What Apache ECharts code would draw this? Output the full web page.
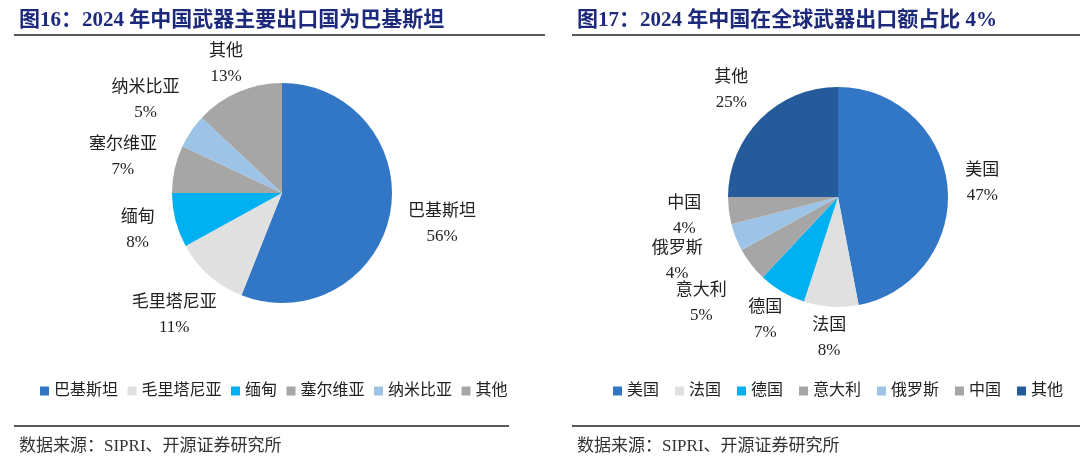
<!DOCTYPE html>
<html><head><meta charset="utf-8">
<script src="https://cdn.jsdelivr.net/npm/echarts@6/dist/echarts.min.js"></script>
<style>html,body{margin:0;padding:0;background:#fff}#c{width:1080px;height:464px}</style>
</head><body><div id="c"></div>
<script>
// ---- data ----
const title1 = '图16：2024 年中国武器主要出口国为巴基斯坦';
const title2 = '图17：2024 年中国在全球武器出口额占比 4%';
const source = '数据来源：SIPRI、开源证券研究所';
const names1 = ['巴基斯坦','毛里塔尼亚','缅甸','塞尔维亚','纳米比亚','其他'];
const values1 = [56, 11, 8, 7, 5, 13];
const names2 = ['美国','法国','德国','意大利','俄罗斯','中国','其他'];
const values2 = [47, 8, 7, 5, 4, 4, 25];

// ---- styles / layout ----
const colors1 = ['#3276C6','#E0E0E0','#00B0F0','#A6A6A6','#9DC3E6','#A6A6A6'];
const colors2 = ['#3276C6','#E0E0E0','#00B0F0','#A6A6A6','#9DC3E6','#A6A6A6','#255A9B'];
// label ring radius per slice (layout only)
const rings1 = [160, 160, 146, 160, 162, 138];
const rings2 = [142, 138, 140, 170, 170, 152, 148];

const FONT = "'Liberation Serif','Noto Sans CJK SC',serif";
const TXT = '#222';

function pieSeries(names, values, colors, center, rings) {
  const out = [{
    type: 'pie', center: center, radius: [0, 110], startAngle: 90, clockwise: true,
    label: { show: false }, labelLine: { show: false }, silent: true,
    itemStyle: { borderWidth: 0 },
    data: names.map((n, i) => ({ name: n, value: values[i], itemStyle: { color: colors[i] } }))
  }];
  const uniq = [...new Set(rings)];
  uniq.forEach(r => {
    out.push({
      type: 'pie', center: center, radius: [0, r * 2], startAngle: 90, clockwise: true,
      silent: true, avoidLabelOverlap: false, z: 1,
      labelLayout: { hideOverlap: false },
      itemStyle: { color: 'rgba(0,0,0,0)', borderWidth: 0 },
      label: { position: 'inside', formatter: '{b}\n{c}%', color: TXT,
               fontFamily: FONT, fontSize: 17, lineHeight: 25, align: 'center' },
      labelLine: { show: false },
      data: names.map((n, i) => ({ name: n, value: values[i], label: { show: rings[i] === r } }))
    });
  });
  return out;
}
function legend(names, colors, left, gap) {
  return {
    left: left, top: 378, icon: 'rect', itemWidth: 9, itemHeight: 9, itemGap: gap,
    selectedMode: false,
    textStyle: { fontFamily: FONT, fontSize: 16, color: TXT },
    data: names.map((n, i) => ({ name: n, itemStyle: { color: colors[i] } }))
  };
}
const titleStyle = { fontFamily: FONT, fontWeight: 'bold', fontSize: 21, color: '#1d2a7c' };
const srcStyle = { fontFamily: FONT, fontWeight: 'normal', fontSize: 17, color: '#333' };
const chart = echarts.init(document.getElementById('c'));
chart.setOption({
  animation: false,
  title: [
    { text: title1, left: 14, top: 5, textStyle: titleStyle },
    { text: title2, left: 572, top: 5, textStyle: titleStyle },
    { text: source, left: 14, top: 433, textStyle: srcStyle },
    { text: source, left: 572, top: 433, textStyle: srcStyle }
  ],
  graphic: [
    { type: 'line', shape: { x1: 14, y1: 35, x2: 545, y2: 35 }, style: { stroke: '#222', lineWidth: 1.5 } },
    { type: 'line', shape: { x1: 572, y1: 35, x2: 1080, y2: 35 }, style: { stroke: '#222', lineWidth: 1.5 } },
    { type: 'line', shape: { x1: 14, y1: 426, x2: 509, y2: 426 }, style: { stroke: '#222', lineWidth: 1.5 } },
    { type: 'line', shape: { x1: 572, y1: 426, x2: 1080, y2: 426 }, style: { stroke: '#222', lineWidth: 1.5 } }
  ],
  legend: [ legend(names1, colors1, 35, 9.5), legend(names2, colors2, 608, 16) ],
  series: [].concat(
    pieSeries(names1, values1, colors1, [282, 193], rings1),
    pieSeries(names2, values2, colors2, [838, 197], rings2)
  )
});
</script></body></html>
